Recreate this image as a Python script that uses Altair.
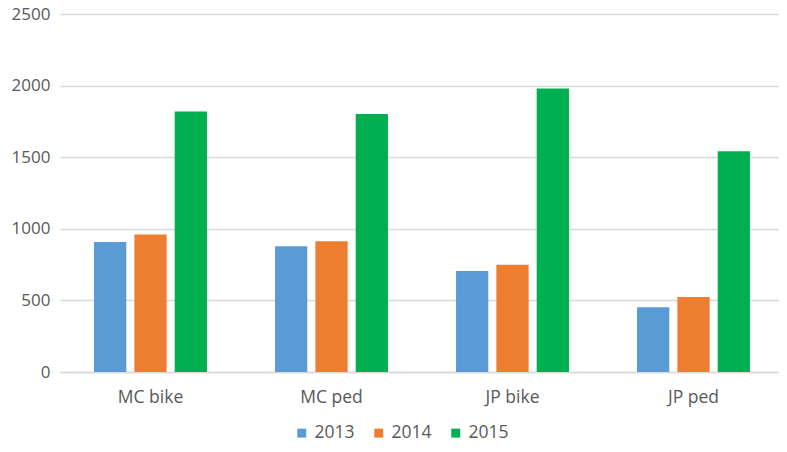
import altair as alt
import pandas as pd

categories = ["MC bike", "MC ped", "JP bike", "JP ped"]
years = ["2013", "2014", "2015"]
values_2013 = [908, 879, 705, 452]
values_2014 = [961, 913, 749, 523]
values_2015 = [1819, 1801, 1979, 1541]
colors = ["#5B9BD5", "#ED7D31", "#00B050"]
y_ticks = [0, 500, 1000, 1500, 2000, 2500]

rows = []
for yr, vals in zip(years, [values_2013, values_2014, values_2015]):
    for c, v in zip(categories, vals):
        rows.append({"category": c, "year": yr, "value": v})
df = pd.DataFrame(rows)

FONT = "Open Sans"
TXT = "#595959"

chart = alt.Chart(df).mark_bar().encode(
    x=alt.X("category:N", sort=categories, title=None,
            scale=alt.Scale(range=[0, 724], paddingInner=0.376, paddingOuter=0.188),
            axis=alt.Axis(labelAngle=0, labelFont=FONT, labelFontSize=17.5, labelColor=TXT,
                          labelPadding=16, ticks=False, domain=True, domainColor="#d9d9d9",
                          domainWidth=1.5, grid=False)),
    xOffset=alt.XOffset("year:N", sort=years,
                        scale=alt.Scale(paddingInner=0.2, paddingOuter=0)),
    y=alt.Y("value:Q", title=None,
            scale=alt.Scale(domain=[0, 2500], nice=False),
            axis=alt.Axis(values=y_ticks, format="d", labelFont=FONT, labelFontSize=17,
                          labelColor=TXT, labelPadding=10, ticks=False, tickSize=0,
                          domain=False, labelFlush=False, labelOverlap=False,
                          gridColor="#d9d9d9", gridWidth=1.5)),
    color=alt.Color("year:N", sort=years,
                    scale=alt.Scale(domain=years, range=colors),
                    legend=alt.Legend(title=None, orient="none", legendX=233, legendY=410,
                                      direction="horizontal", symbolType="square",
                                      symbolSize=80, symbolStrokeWidth=0, labelOffset=4,
                                      columnPadding=15, labelFont=FONT, labelFontSize=17.5,
                                      labelColor=TXT)),
).properties(
    width=719, height=358,
    autosize=alt.AutoSizeParams(type="none"),
    padding={"left": 52, "top": 6, "right": 0, "bottom": 70},
).configure_view(stroke=None)

chart.save("out.html", embed_options={"renderer": "svg", "actions": False})
